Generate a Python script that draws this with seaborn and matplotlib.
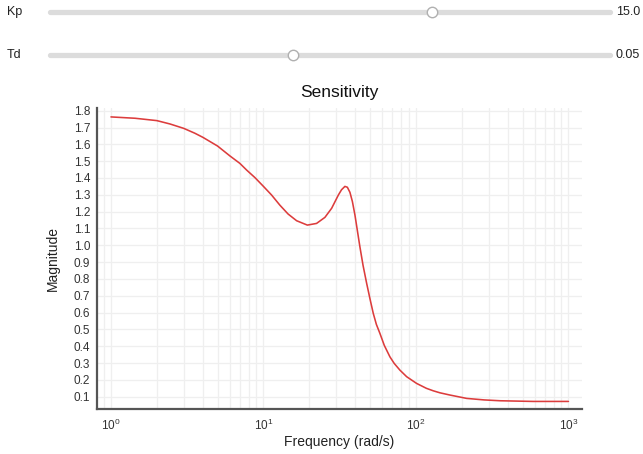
import numpy as np
import pandas as pd
import matplotlib
matplotlib.use("Agg")
import matplotlib.pyplot as plt
import seaborn as sns
from matplotlib.lines import Line2D
from matplotlib.ticker import LogLocator, FixedLocator, NullFormatter

# ---- data ----
freq = [1, 1.44, 2, 2.44, 3, 3.55, 4, 5, 6.03, 7, 7.76, 8.8, 10, 11.3, 12.8,
        14.5, 16.5, 19.4, 22.3, 25.3, 28, 31, 32.5, 34.2, 35.5, 36.9, 38.3,
        39.8, 42.9, 45, 47.5, 50, 52.5, 55, 58, 62, 67.5, 72, 78.5, 86.9, 101,
        117, 130, 144, 167, 215, 280, 356, 588, 1000]
magnitude = [1.763, 1.755, 1.741, 1.721, 1.695, 1.666, 1.642, 1.59, 1.531,
             1.487, 1.447, 1.402, 1.35, 1.299, 1.239, 1.186, 1.146, 1.12, 1.13,
             1.166, 1.22, 1.299, 1.33, 1.35, 1.345, 1.315, 1.26, 1.18, 0.991,
             0.88, 0.774, 0.68, 0.595, 0.53, 0.477, 0.405, 0.337, 0.298,
             0.258, 0.219, 0.179, 0.150, 0.135, 0.123, 0.110, 0.090, 0.081,
             0.076, 0.072, 0.072]
y_ticks = [round(0.1 * i, 1) for i in range(1, 19)]
x_ticks = [1, 10, 100, 1000]
x_tick_labels = [r"$10^{0}$", r"$10^{1}$", r"$10^{2}$", r"$10^{3}$"]
slider_names = ["Kp", "Td"]
slider_values = [15.0, 0.05]
slider_texts = ["15.0", "0.05"]
slider_min = [0.0, 0.0]
slider_max = [22.0, 0.115]

df = pd.DataFrame({"Frequency (rad/s)": freq, "Magnitude": magnitude})

sns.set_theme(style="white")
plt.rcParams["font.family"] = ["Liberation Sans", "DejaVu Sans"]
plt.rcParams["mathtext.fontset"] = "custom"
plt.rcParams["mathtext.rm"] = "Liberation Sans"
plt.rcParams["mathtext.it"] = "Liberation Sans"

W, H = 643, 454
fig = plt.figure(figsize=(W / 100, H / 100), dpi=100)
ax = fig.add_axes([97 / W, 1 - 409 / H, (582 - 97) / W, (409 - 108) / H])

sns.lineplot(data=df, x="Frequency (rad/s)", y="Magnitude", ax=ax,
             color="#dc3c3c", linewidth=1.15)
ax.set_xscale("log")
ax.set_xlim(0.81, 1227)
ax.set_ylim(0.027, 1.816)

ax.xaxis.set_major_locator(FixedLocator(x_ticks))
ax.set_xticks(x_ticks)
ax.set_xticklabels(x_tick_labels)
ax.xaxis.set_minor_locator(LogLocator(base=10, subs=np.arange(2, 10)))
ax.xaxis.set_minor_formatter(NullFormatter())
ax.set_yticks(y_ticks)
ax.set_yticklabels([f"{v:.1f}" for v in y_ticks])

ax.grid(True, which="major", axis="both", color="#efefef", linewidth=0.9)
ax.grid(True, which="minor", axis="x", color="#efefef", linewidth=0.9)
ax.set_axisbelow(True)

for s in ["top", "right"]:
    ax.spines[s].set_visible(False)
for s in ["left", "bottom"]:
    ax.spines[s].set_color("#555555")
    ax.spines[s].set_linewidth(1.6)

ax.tick_params(axis="both", which="both", direction="in", color="#444444",
               width=1.0, length=4, labelcolor="#333333", labelsize=8.5)
ax.tick_params(axis="y", pad=5)
ax.tick_params(axis="x", pad=6)

ax.set_title("Sensitivity", fontsize=12.5, color="#111111", pad=8)
ax.set_xlabel("Frequency (rad/s)", fontsize=10, color="#222222", labelpad=2)
ax.set_ylabel("Magnitude", fontsize=10, color="#222222", labelpad=10)

# ---- slider widgets drawn above the chart ----
track_x0, track_x1 = 50 / W, 610 / W
rows_y = [1 - 12 / H, 1 - 55 / H]
for name, val, txt, lo, hi, yy in zip(slider_names, slider_values, slider_texts,
                                      slider_min, slider_max, rows_y):
    fig.text(7 / W, yy, name, fontsize=9, color="#222222", va="center", ha="left")
    fig.add_artist(Line2D([track_x0, track_x1], [yy, yy], transform=fig.transFigure,
                          color="#dcdcdc", linewidth=3.8, solid_capstyle="round"))
    frac = (val - lo) / (hi - lo)
    tx = track_x0 + frac * (track_x1 - track_x0)
    fig.add_artist(Line2D([tx], [yy], transform=fig.transFigure, marker="o",
                          markersize=7.5, markerfacecolor="white",
                          markeredgecolor="#b0b0b0", markeredgewidth=1.0,
                          linestyle="none"))
    fig.text(640 / W, yy, txt, fontsize=9, color="#222222", va="center", ha="right")

fig.savefig("out.png", dpi=100)
